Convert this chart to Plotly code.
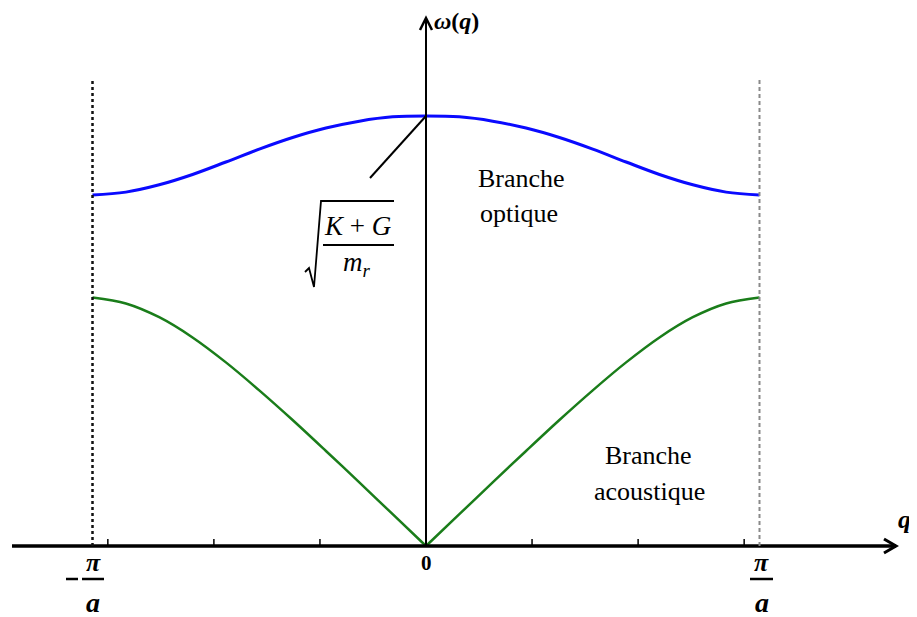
import plotly.graph_objects as go

# q in units of pi/a, omega normalised to sqrt((K+G)/m_r)
q = [-1.0, -0.9, -0.8, -0.7, -0.6, -0.5, -0.4, -0.3, -0.2, -0.1, 0.0,
     0.1, 0.2, 0.3, 0.4, 0.5, 0.6, 0.7, 0.8, 0.9, 1.0]
omega_optique = [0.816, 0.823, 0.840, 0.864, 0.893, 0.923, 0.950, 0.972, 0.988, 0.998, 1.000,
                 0.998, 0.988, 0.972, 0.950, 0.923, 0.893, 0.864, 0.840, 0.823, 0.816]
omega_acoustique = [0.578, 0.564, 0.532, 0.485, 0.427, 0.362, 0.293, 0.221, 0.148, 0.074, 0.0,
                    0.074, 0.148, 0.221, 0.293, 0.362, 0.427, 0.485, 0.532, 0.564, 0.578]
tick_q = [-0.954, -0.636, -0.318, 0.318, 0.636, 0.954]

# page pixel -> data helpers for the decorations (page body has an 8px margin)
OFF = 8
X0, QPX = 426, 333.5
Y0, WPX = 546, 430


def dx(p):
    return (p - X0) / QPX


def dy(p):
    return (Y0 - p) / WPX


fig = go.Figure()
fig.add_trace(go.Scatter(x=q, y=omega_optique, mode="lines", line_shape="spline",
                         line=dict(color="#0a0aff", width=3, smoothing=1)))
mid = q.index(0.0)
# acoustic branch has a kink at q = 0: draw both halves separately
for part in (slice(0, mid + 1), slice(mid, None)):
    fig.add_trace(go.Scatter(x=q[part], y=omega_acoustique[part], mode="lines", line_shape="spline",
                             line=dict(color="#1a7d1a", width=2.5, smoothing=0.9)))

black = "#000000"
shapes = [
    # axes
    dict(type="line", x0=dx(12), x1=dx(896), y0=0, y1=0, line=dict(color=black, width=3.5)),
    dict(type="path", path=f"M {dx(884)},{dy(539)} L {dx(896)},{dy(546)} L {dx(884)},{dy(553)}",
         line=dict(color=black, width=3)),
    dict(type="line", x0=0, x1=0, y0=0, y1=dy(19), line=dict(color=black, width=2)),
    dict(type="path", path=f"M {dx(420)},{dy(30)} L {dx(426)},{dy(18)} L {dx(432)},{dy(30)}",
         line=dict(color=black, width=2.5)),
    # zone boundaries
    dict(type="line", x0=-1, x1=-1, y0=0, y1=dy(80), line=dict(color="#111111", width=2.5, dash="3px,3px")),
    dict(type="line", x0=1, x1=1, y0=0, y1=dy(80), line=dict(color="#8a8a8a", width=2, dash="4px,3px")),
    # pointer to omega max
    dict(type="line", x0=dx(370), y0=dy(178), x1=0, y1=1.0, line=dict(color=black, width=2)),
    # radical sign and fraction bar
    dict(type="path", path=f"M {dx(305)},{dy(272)} L {dx(309)},{dy(268)} L {dx(314)},{dy(287)} "
                           f"L {dx(321)},{dy(201)} L {dx(394)},{dy(201)}",
         line=dict(color=black, width=1.8)),
    dict(type="line", x0=dx(323), x1=dx(394), y0=dy(245), y1=dy(245), line=dict(color=black, width=2)),
    # fraction bars of pi/a
    dict(type="line", x0=dx(82), x1=dx(104), y0=dy(579), y1=dy(579), line=dict(color=black, width=2.5)),
    dict(type="line", x0=dx(66), x1=dx(78), y0=dy(579), y1=dy(579), line=dict(color=black, width=2.5)),
    dict(type="line", x0=dx(750), x1=dx(773), y0=dy(579), y1=dy(579), line=dict(color=black, width=2.5)),
]
for t in tick_q:
    shapes.append(dict(type="line", x0=t, x1=t, y0=0, y1=dy(539), line=dict(color=black, width=1.5)))

serif = "Liberation Serif"


def label(x, y, text, size=22, family=serif, xanchor="center"):
    return dict(x=x, y=y, text=text, showarrow=False, xanchor=xanchor, yanchor="middle",
                font=dict(family=family, size=size, color=black))


annotations = [
    label(dx(432), dy(21), "<b><i>ω</i>(<i>q</i>)</b>", size=24, xanchor="left"),
    label(dx(904), dy(519), "<b><i>q</i></b>", size=26),
    label(0, dy(563), "<b>0</b>", size=21),
    label(dx(93), dy(562), "<b><i>π</i></b>", size=26),
    label(dx(93), dy(602), "<b><i>a</i></b>", size=28),
    label(dx(761), dy(562), "<b><i>π</i></b>", size=26),
    label(dx(762), dy(602), "<b><i>a</i></b>", size=28),
    label(dx(357), dy(226), "<i>K</i> + <i>G</i>", size=27),
    label(dx(357), dy(264), "<i>m<sub>r</sub></i>", size=27),
    label(dx(521), dy(178), "Branche", size=26),
    label(dx(519), dy(213), "optique", size=26),
    label(dx(648), dy(455), "Branche", size=26),
    label(dx(649), dy(491), "acoustique", size=26),
]

fig.update_layout(
    width=917, height=617,
    margin=dict(l=0, r=0, t=0, b=0),
    paper_bgcolor="white", plot_bgcolor="white",
    showlegend=False,
    xaxis=dict(visible=False, range=[dx(OFF), dx(917 + OFF)], fixedrange=True),
    yaxis=dict(visible=False, range=[dy(617 + OFF), dy(OFF)], fixedrange=True),
    shapes=shapes,
    annotations=annotations,
)

fig.write_html("out.html")
